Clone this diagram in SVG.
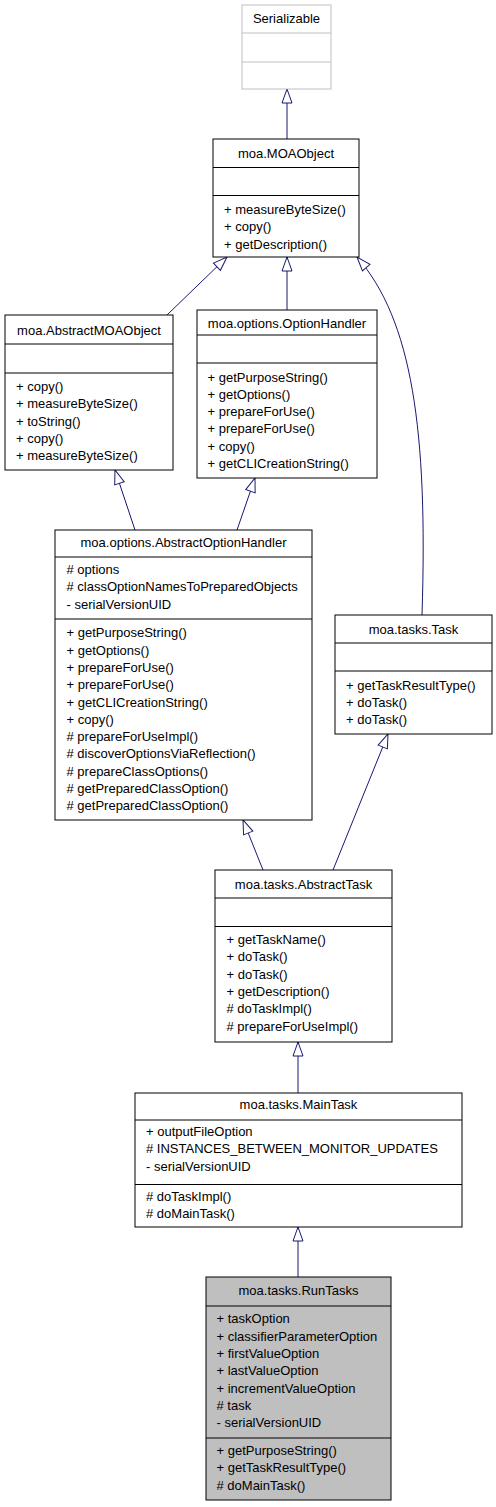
<svg xmlns="http://www.w3.org/2000/svg" width="496" height="1507" viewBox="0 0 496 1507">
<style>
.box{fill:#ffffff;stroke:#000000;stroke-width:1}
.gray{fill:#ffffff;stroke:#bfbfbf;stroke-width:1}
.sel{fill:#bfbfbf;stroke:#000000;stroke-width:1}
.ln{stroke:#000000;stroke-width:1}
.lng{stroke:#bfbfbf;stroke-width:1}
text{font-family:"Liberation Sans",Arial,sans-serif;font-size:13px;fill:#000000}
.t{text-anchor:middle}
.e{fill:none;stroke:#191970;stroke-width:1;marker-end:url(#inh)}
</style>
<defs>
<marker id="inh" markerWidth="16" markerHeight="12" refX="14" refY="5" orient="auto" markerUnits="userSpaceOnUse" style="overflow:visible">
<path d="M0,0 L14,5 L0,10 Z" fill="#ffffff" stroke="#191970" stroke-width="1"/>
</marker>
</defs>
<rect width="496" height="1507" fill="#ffffff"/>
<g id="connectors">
<path class="e" d="M287,139 L287,89"/>
<path class="e" d="M167,315 L227,257"/>
<path class="e" d="M287,310 L287,257"/>
<path class="e" d="M422,615 C428,430 412,320 357,257"/>
<path class="e" d="M135,530 L115,470"/>
<path class="e" d="M237,530 L255,478"/>
<path class="e" d="M263,870 L243,820"/>
<path class="e" d="M333,870 L388,734"/>
<path class="e" d="M298,1093 L298,1042"/>
<path class="e" d="M298,1277 L298,1227"/>
</g>
<g id="Serializable">
<rect class="gray" x="242" y="5" width="89" height="84"/>
<line class="lng" x1="242" y1="33" x2="331" y2="33"/>
<line class="lng" x1="242" y1="62" x2="331" y2="62"/>
<text class="t" x="286.5" y="23">Serializable</text>
</g>
<g id="MOAObject">
<rect class="box" x="213" y="139" width="146" height="118"/>
<line class="ln" x1="213" y1="167.5" x2="359" y2="167.5"/>
<line class="ln" x1="213" y1="195.5" x2="359" y2="195.5"/>
<text class="t" x="286" y="158">moa.MOAObject</text>
<text x="224" y="214">+ measureByteSize()</text>
<text x="224" y="231.3">+ copy()</text>
<text x="224" y="248.6">+ getDescription()</text>
</g>
<g id="AbstractMOAObject">
<rect class="box" x="5" y="315" width="168" height="155"/>
<line class="ln" x1="5" y1="344" x2="173" y2="344"/>
<line class="ln" x1="5" y1="373" x2="173" y2="373"/>
<text class="t" x="89" y="335">moa.AbstractMOAObject</text>
<text x="16" y="391">+ copy()</text>
<text x="16" y="408.3">+ measureByteSize()</text>
<text x="16" y="425.6">+ toString()</text>
<text x="16" y="442.9">+ copy()</text>
<text x="16" y="460.2">+ measureByteSize()</text>
</g>
<g id="OptionHandler">
<rect class="box" x="197" y="310" width="180" height="168"/>
<line class="ln" x1="197" y1="335" x2="377" y2="335"/>
<line class="ln" x1="197" y1="363" x2="377" y2="363"/>
<text class="t" x="287" y="327.5">moa.options.OptionHandler</text>
<text x="207.5" y="381.5">+ getPurposeString()</text>
<text x="207.5" y="398.8">+ getOptions()</text>
<text x="207.5" y="416.1">+ prepareForUse()</text>
<text x="207.5" y="433.4">+ prepareForUse()</text>
<text x="207.5" y="450.7">+ copy()</text>
<text x="207.5" y="468">+ getCLICreationString()</text>
</g>
<g id="AbstractOptionHandler">
<rect class="box" x="55" y="530" width="257" height="290"/>
<line class="ln" x1="55" y1="557" x2="312" y2="557"/>
<line class="ln" x1="55" y1="619" x2="312" y2="619"/>
<text class="t" x="183.5" y="547">moa.options.AbstractOptionHandler</text>
<text x="66.5" y="574"># options</text>
<text x="66.5" y="591.3"># classOptionNamesToPreparedObjects</text>
<text x="66.5" y="608.6">- serialVersionUID</text>
<text x="66.5" y="637.3">+ getPurposeString()</text>
<text x="66.5" y="654.6">+ getOptions()</text>
<text x="66.5" y="671.9">+ prepareForUse()</text>
<text x="66.5" y="689.2">+ prepareForUse()</text>
<text x="66.5" y="706.5">+ getCLICreationString()</text>
<text x="66.5" y="723.8">+ copy()</text>
<text x="66.5" y="741.1"># prepareForUseImpl()</text>
<text x="66.5" y="758.4"># discoverOptionsViaReflection()</text>
<text x="66.5" y="775.7"># prepareClassOptions()</text>
<text x="66.5" y="793"># getPreparedClassOption()</text>
<text x="66.5" y="810.3"># getPreparedClassOption()</text>
</g>
<g id="Task">
<rect class="box" x="335" y="615" width="157" height="119"/>
<line class="ln" x1="335" y1="643" x2="492" y2="643"/>
<line class="ln" x1="335" y1="671" x2="492" y2="671"/>
<text class="t" x="413.5" y="633.5">moa.tasks.Task</text>
<text x="346" y="689.5">+ getTaskResultType()</text>
<text x="346" y="706.6">+ doTask()</text>
<text x="346" y="723.7">+ doTask()</text>
</g>
<g id="AbstractTask">
<rect class="box" x="215" y="870" width="177" height="172"/>
<line class="ln" x1="215" y1="898" x2="392" y2="898"/>
<line class="ln" x1="215" y1="926.5" x2="392" y2="926.5"/>
<text class="t" x="303.5" y="889.3">moa.tasks.AbstractTask</text>
<text x="226.5" y="944">+ getTaskName()</text>
<text x="226.5" y="961.3">+ doTask()</text>
<text x="226.5" y="978.6">+ doTask()</text>
<text x="226.5" y="995.9">+ getDescription()</text>
<text x="226.5" y="1013.2"># doTaskImpl()</text>
<text x="226.5" y="1030.5"># prepareForUseImpl()</text>
</g>
<g id="MainTask">
<rect class="box" x="135" y="1093" width="327" height="134"/>
<line class="ln" x1="135" y1="1120" x2="462" y2="1120"/>
<line class="ln" x1="135" y1="1184.5" x2="462" y2="1184.5"/>
<text class="t" x="298.5" y="1109.3">moa.tasks.MainTask</text>
<text x="146" y="1136">+ outputFileOption</text>
<text x="146" y="1153.3"># INSTANCES_BETWEEN_MONITOR_UPDATES</text>
<text x="146" y="1170.6">- serialVersionUID</text>
<text x="146" y="1200.7"># doTaskImpl()</text>
<text x="146" y="1218"># doMainTask()</text>
</g>
<g id="RunTasks">
<rect class="sel" x="206" y="1277" width="185" height="223"/>
<line class="ln" x1="206" y1="1306" x2="391" y2="1306"/>
<line class="ln" x1="206" y1="1438" x2="391" y2="1438"/>
<text class="t" x="298.5" y="1295.3">moa.tasks.RunTasks</text>
<text x="216.5" y="1323.3">+ taskOption</text>
<text x="216.5" y="1340.6">+ classifierParameterOption</text>
<text x="216.5" y="1357.9">+ firstValueOption</text>
<text x="216.5" y="1375.2">+ lastValueOption</text>
<text x="216.5" y="1392.5">+ incrementValueOption</text>
<text x="216.5" y="1409.8"># task</text>
<text x="216.5" y="1427.1">- serialVersionUID</text>
<text x="216.5" y="1455">+ getPurposeString()</text>
<text x="216.5" y="1472.3">+ getTaskResultType()</text>
<text x="216.5" y="1489.6"># doMainTask()</text>
</g>
</svg>
